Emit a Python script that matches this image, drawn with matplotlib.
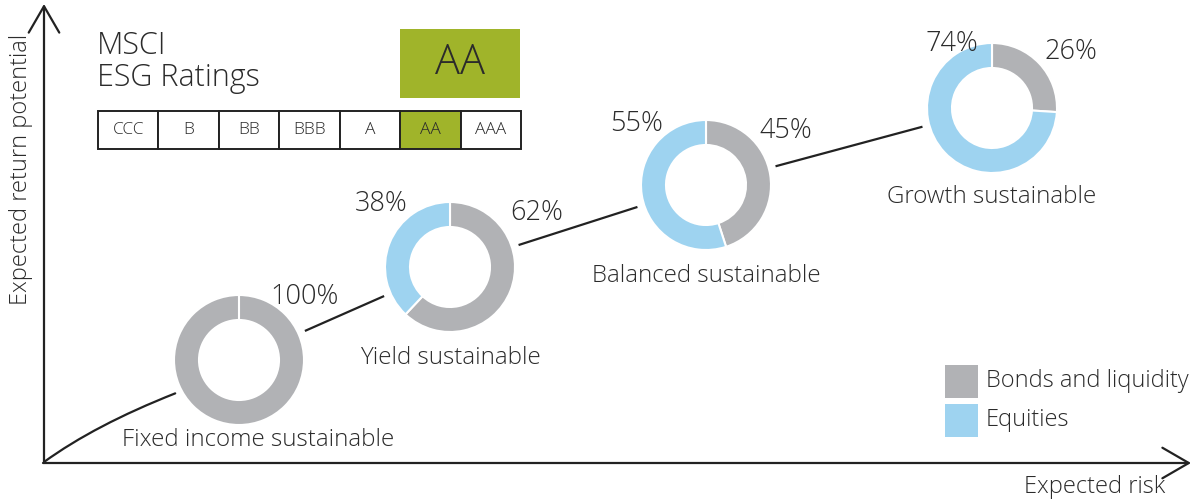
import matplotlib.pyplot as plt
from matplotlib.patches import Rectangle, FancyArrowPatch
from matplotlib.path import Path
import numpy as np

plt.rcParams['font.family'] = ['Open Sans', 'DejaVu Sans']
plt.rcParams['font.weight'] = 300

# data
funds = ["Fixed income sustainable", "Yield sustainable",
         "Balanced sustainable", "Growth sustainable"]
bonds = [100, 62, 45, 26]
equities = [0, 38, 55, 74]
risk_pos = [239, 450, 706, 992]       # expected risk (pixel scale)
return_pos = [140, 233, 315, 392]     # expected return potential (pixel scale)
ratings = ["CCC", "B", "BB", "BBB", "A", "AA", "AAA"]
fund_rating = "AA"

GRAY = "#b1b2b5"
BLUE = "#9ed3f0"
GREEN = "#a0b42a"
TXT = "#2b2b2b"
W, H = 1194, 500

fig = plt.figure(figsize=(W / 100, H / 100), dpi=100)
ax = fig.add_axes([0, 0, 1, 1])
ax.set_xlim(0, W)
ax.set_ylim(0, H)
ax.axis("off")

R_OUT, R_W = 65, 25

# axes arrows
arrow = dict(arrowstyle="->,head_length=1.9,head_width=1.1", lw=1.6, color="#222222",
             shrinkA=0, shrinkB=0)
ax.annotate("", xy=(44, 496), xytext=(44, 37), arrowprops=arrow)
ax.annotate("", xy=(1191, 37), xytext=(43, 37), arrowprops=arrow)
ax.text(21, 331, "Expected return potential", rotation=90, ha="center", va="center",
        fontsize=17, color=TXT)
ax.text(1095, 13, "Expected risk", ha="center", va="center", fontsize=17, color=TXT)

# connector from origin to the first fund (slightly curved)
gap = 72
x0, y0 = risk_pos[0], return_pos[0]
d = np.array([-195, -102]) / np.hypot(195, 102)
end = np.array([x0, y0]) + d * gap
path = Path([(44, 38), (95, 75), end], [Path.MOVETO, Path.CURVE3, Path.CURVE3])
ax.add_patch(FancyArrowPatch(path=path, arrowstyle="-", lw=1.6, color="#222222"))

# connectors between funds
for i in range(len(funds) - 1):
    p1 = np.array([risk_pos[i], return_pos[i]], dtype=float)
    p2 = np.array([risk_pos[i + 1], return_pos[i + 1]], dtype=float)
    u = (p2 - p1) / np.hypot(*(p2 - p1))
    a, b = p1 + u * gap, p2 - u * gap
    ax.plot([a[0], b[0]], [a[1], b[1]], color="#222222", lw=1.6, solid_capstyle="butt")

# donuts
for i in range(len(funds)):
    vals = [bonds[i], equities[i]]
    ax.pie(vals, colors=[GRAY, BLUE], startangle=90, counterclock=False,
           radius=R_OUT, center=(risk_pos[i], return_pos[i]), frame=True,
           wedgeprops=dict(width=R_W, edgecolor="white", linewidth=1.5))

# labels
name_off = [-80, -91, -91, -89]
for i, name in enumerate(funds):
    ax.text(risk_pos[i] + (19 if i == 0 else 0), return_pos[i] + name_off[i], name,
            ha="center", va="center", fontsize=17.4, color=TXT)

bond_off = [(66, 63), (87, 54), (80, 54), (79, 56)]
eq_off = [None, (-69, 63), (-69, 61), (-40, 64)]
for i in range(len(funds)):
    dx, dy = bond_off[i]
    ax.text(risk_pos[i] + dx, return_pos[i] + dy, f"{bonds[i]}%",
            ha="center", va="center", fontsize=19.5, color=TXT)
    if equities[i] > 0:
        dx, dy = eq_off[i]
        ax.text(risk_pos[i] + dx, return_pos[i] + dy, f"{equities[i]}%",
                ha="center", va="center", fontsize=19.5, color=TXT)

# MSCI ESG rating block
ax.text(97, 438, "MSCI\nESG Ratings", ha="left", va="center", fontsize=22,
        color=TXT, linespacing=1.0)
ax.add_patch(Rectangle((400, 402), 120, 69, facecolor=GREEN, edgecolor="none"))
ax.text(460, 437, fund_rating, ha="center", va="center", fontsize=30, color=TXT)
cell_w = (521 - 98) / len(ratings)
for j, r in enumerate(ratings):
    fc = GREEN if r == fund_rating else "white"
    ax.add_patch(Rectangle((98 + j * cell_w, 351), cell_w, 38, facecolor=fc,
                           edgecolor="#222222", lw=1.4))
    ax.text(98 + (j + 0.5) * cell_w, 370, r, ha="center", va="center",
            fontsize=12.5, color=TXT)

# legend
for k, (lab, c) in enumerate([("Bonds and liquidity", GRAY), ("Equities", BLUE)]):
    yb = 102 - k * 39
    ax.add_patch(Rectangle((945, yb), 33, 33, facecolor=c, edgecolor="none"))
    ax.text(986, yb + 17, lab, ha="left", va="center", fontsize=17, color=TXT)

ax.set_xlim(0, W)
ax.set_ylim(0, H)
ax.set_aspect("auto")
fig.savefig("out.png", dpi=100)
